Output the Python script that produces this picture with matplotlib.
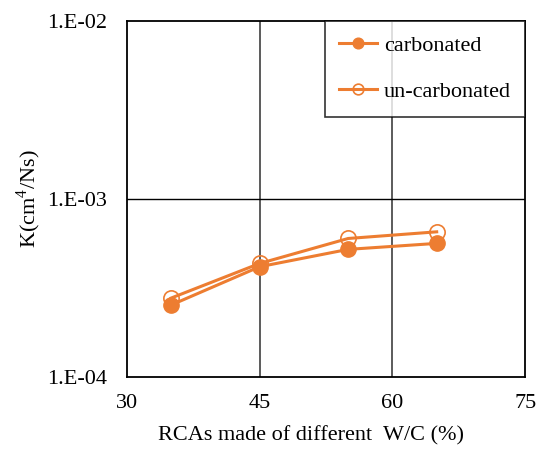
import matplotlib.pyplot as plt
from matplotlib.ticker import FixedLocator, NullLocator

plt.rcParams['font.family'] = ['Liberation Serif', 'DejaVu Serif']
plt.rcParams['mathtext.fontset'] = 'custom'
plt.rcParams['mathtext.rm'] = 'Liberation Serif'

wc = [35, 45, 55, 65]
carbonated = [2.54e-4, 4.17e-4, 5.22e-4, 5.64e-4]
uncarbonated = [2.78e-4, 4.35e-4, 6.01e-4, 6.55e-4]
ytick_vals = [1e-4, 1e-3, 1e-2]
ytick_labels = ['1.E-04', '1.E-03', '1.E-02']
xtick_vals = [30, 45, 60, 75]

color = '#ED7D31'

fig = plt.figure(figsize=(5.42, 4.5), dpi=100)
ax = fig.add_axes([0.234, 0.162, 0.735, 0.791])

ax.plot(wc, carbonated, color=color, lw=2.2, marker='o', ms=11,
        mfc=color, mec=color, label='carbonated', zorder=3)
ax.plot(wc, uncarbonated, color=color, lw=2.2, marker='o', ms=11,
        mfc='none', mec=color, mew=1.2, label='un-carbonated', zorder=3)

ax.set_yscale('log')
ax.set_ylim(1e-4, 1e-2)
ax.set_xlim(30, 75)
ax.yaxis.set_major_locator(FixedLocator(ytick_vals))
ax.yaxis.set_minor_locator(NullLocator())
ax.set_yticklabels(ytick_labels)
ax.set_xticks(xtick_vals)
ax.tick_params(length=0, labelsize=16)
ax.tick_params(axis='y', pad=14)
ax.tick_params(axis='x', pad=12)

ax.axvline(45, color='#404040', lw=1.2, zorder=1)
ax.axvline(60, color='#404040', lw=1.2, zorder=1)
ax.axhline(1e-3, color='black', lw=1.0, zorder=1)

for s in ax.spines.values():
    s.set_linewidth(1.3)

ax.set_xlabel('RCAs made of different  W/C (%)', fontsize=16)
ax.set_ylabel('K(cm$^4$/Ns)', fontsize=16)
ax.xaxis.set_label_coords(0.462, -0.138)
ax.yaxis.set_label_coords(-0.21, 0.5)

leg = ax.legend(loc='upper right', bbox_to_anchor=(1, 1), borderaxespad=0,
                fontsize=16, frameon=True, fancybox=False, edgecolor='black',
                labelspacing=1.15, handlelength=1.7, handletextpad=0.3,
                borderpad=0.65, markerscale=0.7)
leg.get_frame().set_linewidth(1.2)

fig.savefig('out.png', dpi=100)
